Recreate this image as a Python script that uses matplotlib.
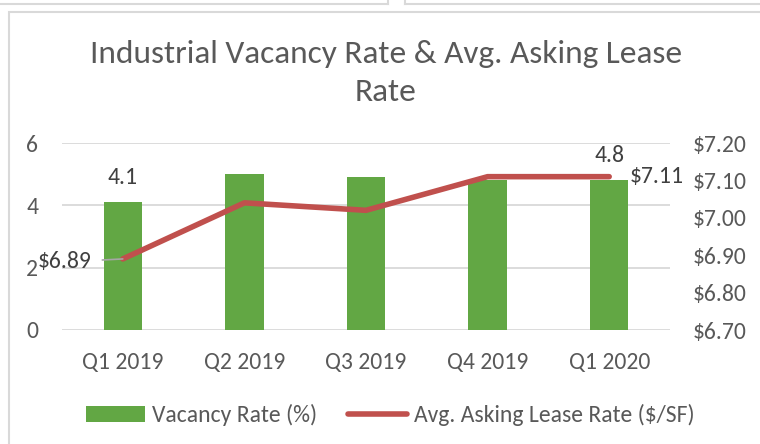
import matplotlib
matplotlib.use("Agg")
import matplotlib.pyplot as plt
from matplotlib import font_manager
from matplotlib.patches import Rectangle, Patch
from matplotlib.lines import Line2D

quarters = ["Q1 2019", "Q2 2019", "Q3 2019", "Q4 2019", "Q1 2020"]
vacancy = [4.1, 5.0, 4.9, 4.8, 4.8]
lease = [6.89, 7.04, 7.02, 7.11, 7.11]
left_ticks = [0, 2, 4, 6]
right_ticks = [6.70, 6.80, 6.90, 7.00, 7.10, 7.20]

names = {f.name for f in font_manager.fontManager.ttflist}
if "Carlito" in names:
    plt.rcParams['font.family'] = ['Carlito', 'DejaVu Sans']
    FS, TFS = 17, 24
else:
    plt.rcParams['font.family'] = ['Lato', 'DejaVu Sans']
    FS, TFS = 15.5, 20.3

TXT = "#595959"
LBL = "#404040"
GREEN = "#62a744"
RED = "#c0504d"
GRID = "#d9d9d9"

W, H = 760, 444
fig = plt.figure(figsize=(W / 100, H / 100), dpi=100)

# frame borders
BC = "#d9d9d9"
fig.patches.append(Rectangle((9 / W, -0.01), (W - 9) / W + 0.02, (H - 12) / H + 0.01, transform=fig.transFigure,
                             fill=False, edgecolor=BC, lw=1.5))
fig.add_artist(Line2D([0, 388 / W], [1 - 4 / H] * 2, transform=fig.transFigure, color=BC, lw=1.5))
fig.add_artist(Line2D([388 / W] * 2, [1 - 4 / H, 1], transform=fig.transFigure, color=BC, lw=1.5))
fig.add_artist(Line2D([405 / W, 1], [1 - 4 / H] * 2, transform=fig.transFigure, color=BC, lw=1.5))
fig.add_artist(Line2D([405 / W] * 2, [1 - 4 / H, 1], transform=fig.transFigure, color=BC, lw=1.5))

x0, x1 = 62, 670
y_top, y_bot = 143, 330
ax = fig.add_axes([x0 / W, 1 - y_bot / H, (x1 - x0) / W, (y_bot - y_top) / H])
x = list(range(len(quarters)))
ax.bar(x, vacancy, width=0.315, color=GREEN, zorder=2)
ax.set_xlim(-0.5, len(quarters) - 0.5)
ax.set_ylim(0, 6)
ax.set_yticks(left_ticks)
ax.set_xticks(x)
ax.set_xticklabels(quarters)
ax.grid(axis="y", color=GRID, lw=1.3, zorder=0)
for s in ax.spines.values():
    s.set_visible(False)
ax.tick_params(length=0, labelsize=FS, colors=TXT)
ax.tick_params(axis="x", pad=16)
ax.tick_params(axis="y", pad=17)

ax2 = ax.twinx()
ax2.plot(x, lease, color=RED, lw=4, solid_capstyle="round", zorder=3)
ax2.set_ylim(6.70, 7.20)
ax2.set_yticks(right_ticks)
ax2.set_yticklabels([f"${v:.2f}" for v in right_ticks])
for s in ax2.spines.values():
    s.set_visible(False)
ax2.tick_params(length=0, labelsize=FS, colors=TXT, pad=16)

# data labels
ax.text(x[0], vacancy[0] + 0.8, f"{vacancy[0]:.1f}", ha="center", va="center", fontsize=FS, color=LBL)
ax.text(x[-1], vacancy[-1] + 0.8, f"{vacancy[-1]:.1f}", ha="center", va="center", fontsize=FS, color=LBL)
ax2.annotate(f"${lease[0]:.2f}", xy=(x[0], lease[0]), xytext=(x[0] - 0.26, lease[0] - 0.008),
             ha="right", va="center", fontsize=FS, color=LBL,
             arrowprops=dict(arrowstyle="-", color="#a6a6a6", lw=1.2, shrinkA=6, shrinkB=0))
ax2.text(x[-1] + 0.17, lease[-1], f"${lease[-1]:.2f}", ha="left", va="center", fontsize=FS, color=LBL)

fig.text(386 / W, 1 - 73 / H, "Industrial Vacancy Rate & Avg. Asking Lease\nRate", ha="center", va="center",
         fontsize=TFS, color=TXT, linespacing=1.4)

handles = [Patch(facecolor=GREEN, edgecolor="none"), Line2D([], [], color=RED, lw=4, solid_capstyle="round")]
fig.legend(handles, ["Vacancy Rate (%)", "Avg. Asking Lease Rate ($/SF)"], loc="center",
           bbox_to_anchor=(390 / W, 1 - 415 / H), ncol=2, frameon=False, fontsize=FS,
           labelcolor=TXT, handlelength=2.5, handleheight=0.65, handletextpad=0.3, columnspacing=1.3)

fig.savefig("out.png", dpi=100)
